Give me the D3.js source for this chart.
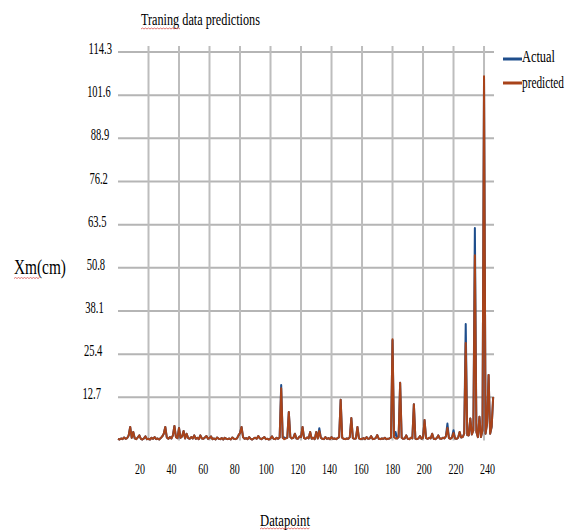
<!DOCTYPE html>
<html><head><meta charset="utf-8">
<script src="https://cdn.jsdelivr.net/npm/d3@7"></script>
<style>body{margin:0;background:#fff}svg{display:block}</style>
</head><body>
<svg id="c" width="567" height="531"></svg>
<script>
const chartTitle = "Traning data predictions";
const yTitle = "Xm(cm)";
const xTitle = "Datapoint";
const seriesNames = ["Actual", "predicted"];
const yTicks = [12.7, 25.4, 38.1, 50.8, 63.5, 76.2, 88.9, 101.6, 114.3];
const xTicks = [20, 40, 60, 80, 100, 120, 140, 160, 180, 200, 220, 240];

const actual = [
0.5,0.3,0.6,0.4,0.9,0.5,0.7,1.5,4.0,0.8,
2.5,0.6,0.4,0.9,1.5,0.5,0.3,0.6,1.2,0.4,
0.5,0.3,0.8,0.5,1.0,0.4,0.6,0.3,0.7,1.2,
2.0,4.0,0.9,0.5,1.0,0.6,1.5,4.3,1.0,0.7,
3.7,0.8,1.2,2.8,0.6,2.0,0.7,0.5,1.0,0.6,
1.5,0.5,0.8,0.4,1.5,0.6,0.5,0.9,1.3,0.5,
0.7,1.2,0.4,0.6,0.3,0.9,0.5,0.4,0.7,0.3,
0.8,0.5,0.4,0.6,0.3,0.9,0.5,0.4,0.6,1.5,
2.2,4.0,1.0,0.5,0.7,0.4,1.0,0.5,0.3,0.6,
0.8,0.5,1.3,0.6,0.4,0.7,1.0,0.4,0.5,0.3,
0.6,1.2,0.5,0.4,0.8,0.5,0.9,16.3,0.8,0.9,
0.6,0.8,8.4,1.0,0.6,0.8,2.0,0.6,0.5,1.2,
1.0,4.0,0.7,0.5,0.9,0.6,2.5,0.5,0.8,0.4,
2.5,0.6,3.6,0.8,0.5,0.4,1.0,0.5,0.7,0.4,
1.0,0.5,0.6,0.4,0.7,1.0,12.0,0.8,0.5,0.4,
0.6,0.5,1.0,6.6,0.7,0.5,0.6,4.0,0.6,0.4,
0.5,0.7,0.4,1.0,0.5,0.6,1.3,0.4,0.5,0.7,
1.6,0.5,0.4,0.6,0.5,0.8,0.4,0.5,0.6,0.9,
29.5,1.0,2.5,0.6,1.0,17.0,0.8,0.5,0.6,1.5,
0.5,0.4,0.8,0.6,10.7,0.5,0.4,0.6,1.3,0.5,
0.8,6.0,0.7,0.5,0.8,0.6,2.0,0.5,0.4,0.7,
1.5,0.6,0.5,0.8,0.6,1.2,5.0,0.7,0.5,0.9,
3.0,0.6,0.5,0.8,2.5,0.9,1.0,2.0,34.3,1.6,
1.5,6.5,1.8,3.0,62.5,2.5,1.0,7.0,1.0,3.0,
106.5,2.0,5.0,19.3,2.0,4.0,12.8
];

const predicted = [
0.5,0.3,0.6,0.4,0.9,0.5,0.7,1.5,4.0,0.8,
2.5,0.6,0.4,0.9,1.5,0.5,0.3,0.6,1.2,0.4,
0.5,0.3,0.8,0.5,1.0,0.4,0.6,0.3,0.7,1.2,
2.0,4.0,0.9,0.5,1.0,0.6,1.5,4.3,1.0,0.7,
3.7,0.8,1.2,2.8,0.6,2.0,0.7,0.5,1.0,0.6,
1.5,0.5,0.8,0.4,1.5,0.6,0.5,0.9,1.3,0.5,
0.7,1.2,0.4,0.6,0.3,0.9,0.5,0.4,0.7,0.3,
0.8,0.5,0.4,0.6,0.3,0.9,0.5,0.4,0.6,1.5,
2.2,4.0,1.0,0.5,0.7,0.4,1.0,0.5,0.3,0.6,
0.8,0.5,1.3,0.6,0.4,0.7,1.0,0.4,0.5,0.3,
0.6,1.2,0.5,0.4,0.8,0.5,0.9,15.4,0.8,0.4,
0.6,0.8,8.4,1.0,0.6,0.8,2.0,0.6,0.5,1.2,
1.0,4.0,0.7,0.5,0.9,0.6,2.5,0.5,0.8,0.4,
2.5,0.6,2.8,0.8,0.5,0.4,1.0,0.5,0.7,0.4,
1.0,0.5,0.6,0.4,0.7,1.0,12.0,0.8,0.5,0.4,
0.6,0.5,1.0,6.6,0.7,0.5,0.6,4.0,0.6,0.4,
0.5,0.7,0.4,1.0,0.5,0.6,1.3,0.4,0.5,0.7,
1.6,0.5,0.4,0.6,0.5,0.8,0.4,0.5,0.6,0.9,
29.8,1.0,0.6,0.6,1.0,17.0,0.8,0.5,0.6,1.5,
0.5,0.4,0.8,0.6,10.7,0.5,0.4,0.6,1.3,0.5,
0.8,6.0,0.7,0.5,0.8,0.6,2.0,0.5,0.4,0.7,
1.5,0.6,0.5,0.8,0.6,1.2,3.7,0.7,0.5,0.9,
2.2,0.6,0.5,0.8,2.5,0.9,1.0,2.0,28.7,1.6,
1.5,6.5,1.8,3.0,54.5,2.5,1.0,7.0,1.0,3.0,
107.2,2.0,5.0,19.3,2.0,4.0,12.8
];

const colors = ["#1f4e8c", "#a8431a"];
const font = "'Liberation Serif','Times New Roman',serif";

const svg = d3.select("#c");
const x = d3.scaleLinear().domain([0, 247]).range([118, 494.7]);
const y = d3.scaleLinear().domain([0, 114.3]).range([440.5, 52]);
// tick labels sit slightly off the gridlines in the original
const xLabelPos = d3.scaleLinear().domain([20, 240]).range([140, 487.5]);
const yLabelRight = d3.scaleLinear().domain([12.7, 114.3]).range([101, 112]);

// condensed text: squeeze a text horizontally to a target width via transform
function condensed(sel, tx, ty, width, anchor) {
  const t = sel.append("text")
    .attr("font-family", font).attr("fill", "#000");
  return (txt, size) => {
    t.attr("font-size", size).text(txt);
    const w = t.node().getComputedTextLength();
    const s = width / w;
    const left = anchor === "end" ? tx - width : anchor === "middle" ? tx - width / 2 : tx;
    t.attr("transform", `translate(${left},${ty}) scale(${s},1)`);
    return t;
  };
}

// gridlines
svg.append("g").selectAll("line").data(yTicks).join("line")
  .attr("x1", 118).attr("x2", 494)
  .attr("y1", d => y(d)).attr("y2", d => y(d))
  .attr("stroke", "#b5b5b5").attr("stroke-width", 2);
svg.append("g").selectAll("line").data(xTicks).join("line")
  .attr("x1", d => x(d)).attr("x2", d => x(d))
  .attr("y1", y(114.3) - 6).attr("y2", y(0))
  .attr("stroke", "#bdbdbd").attr("stroke-width", 2);

// y tick labels
const gy = svg.append("g");
yTicks.forEach(d => {
  const w = String(d).length === 5 ? 23.5 : 18.5;
  condensed(gy, yLabelRight(d), y(d) + 2, w, "end")(String(d), 17);
});

// x tick labels
const gx = svg.append("g");
xTicks.forEach(d => {
  const w = String(d).length === 3 ? 15 : 10;
  condensed(gx, xLabelPos(d), 474, w, "middle")(String(d), 15);
});

// series
const line = d3.line().x((d, i) => x(i)).y(d => y(d));
[actual, predicted].forEach((s, k) => {
  svg.append("path").datum(s)
    .attr("d", line)
    .attr("fill", "none")
    .attr("stroke", colors[k])
    .attr("stroke-width", 2)
    .attr("stroke-linejoin", "round");
});

// titles
condensed(svg, 141, 25, 119, "start")(chartTitle, 17);
condensed(svg, 14, 274, 52, "start")(yTitle, 21);
condensed(svg, 260, 526, 50, "start")(xTitle, 16);

// spell-check squiggles
function squiggle(x0, x1, yy) {
  let p = `M${x0},${yy}`;
  let up = true;
  for (let xx = x0 + 1.5; xx <= x1; xx += 1.5) { p += `L${xx},${yy + (up ? -1 : 0)}`; up = !up; }
  svg.append("path").attr("d", p).attr("fill", "none").attr("stroke", "#d9534f").attr("stroke-width", 0.8);
}
squiggle(141, 181, 29);
squiggle(14, 40, 278.5);
squiggle(260, 310, 529);

// legend
seriesNames.forEach((name, i) => {
  const ly = i === 0 ? 59 : 83;
  svg.append("line").attr("x1", 503).attr("x2", 522).attr("y1", ly).attr("y2", ly)
    .attr("stroke", colors[i]).attr("stroke-width", 3);
  condensed(svg, 522, ly + (i === 0 ? 3 : 5), i === 0 ? 33 : 42, "start")(name, 16);
});
</script>
</body></html>
